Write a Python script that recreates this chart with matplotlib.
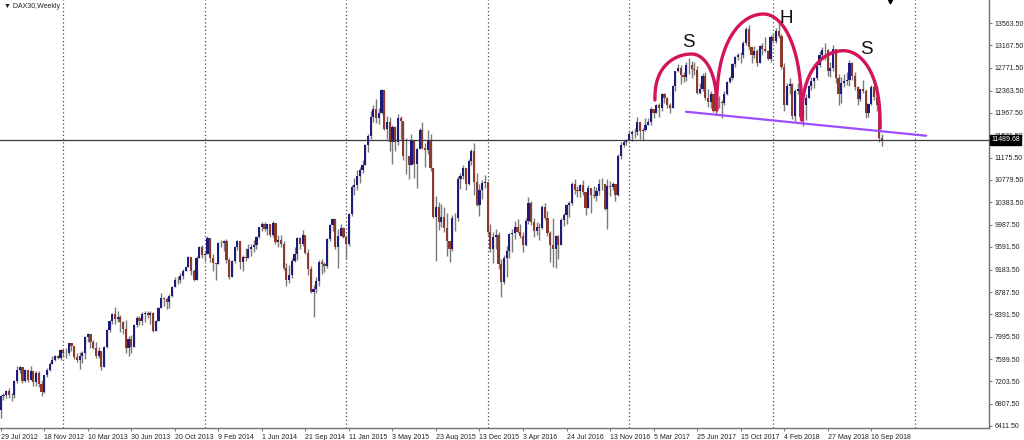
import matplotlib
matplotlib.use('Agg')
import matplotlib.pyplot as plt
import matplotlib.transforms as mtransforms
import numpy as np
import pandas as pd

plt.rcParams['font.family'] = ['Liberation Sans', 'DejaVu Sans']

# weekly DAX30 candles, first bar = week of 29 Jul 2012
first_open = 6700
closes = [
    6940, 6955, 7040, 6970, 6970, 7215, 7410, 7450, 7215, 7400,
    7230, 7380, 7200, 7360, 7160, 7020, 7310, 7400, 7520, 7590,
    7660, 7610, 7760, 7715, 7700, 7880, 7830, 7630, 7590, 7660,
    7710, 7990, 8040, 7910, 7800, 7660, 7740, 7460, 7810, 8120,
    8280, 8400, 8310, 8350, 8250, 8130, 7790, 7960, 7810, 8210,
    8330, 8280, 8400, 8420, 8390, 8420, 8100, 8270, 8510, 8680,
    8660, 8620, 8720, 8870, 9010, 9010, 9080, 9170, 9230, 9410,
    9170, 9010, 9400, 9590, 9440, 9470, 9740, 9390, 9310, 9290,
    9660, 9660, 9690, 9350, 9060, 9340, 9590, 9700, 9320, 9410,
    9400, 9560, 9580, 9630, 9770, 9940, 9990, 9910, 9990, 9810,
    10010, 9670, 9720, 9640, 9210, 9010, 9090, 9340, 9470, 9750,
    9650, 9800, 9490, 9200, 8790, 8850, 8990, 9330, 9290, 9250,
    9730, 9980, 10090, 9590, 9790, 9930, 9760, 9650, 10170, 10650,
    10690, 10850, 10960, 11050, 11400, 11550, 11900, 12040, 11870, 11970,
    12370, 11690, 11810, 11450, 11710, 11450, 11870, 11820, 11200, 11200,
    11040, 11490, 11060, 11320, 11670, 11350, 11310, 11490, 10990, 10120,
    10300, 10040, 10120, 9920, 9690, 9550, 10100, 10100, 10790, 10850,
    10990, 10710, 11120, 11290, 10750, 10340, 10600, 10730, 10740, 9850,
    9550, 9770, 9800, 9290, 8970, 9390, 9510, 9820, 9830, 9950,
    9850, 9790, 9620, 10050, 10370, 10040, 9870, 9950, 9920, 10290,
    10100, 9830, 9630, 9560, 9780, 9630, 10070, 10150, 10340, 10370,
    10710, 10600, 10590, 10680, 10570, 10280, 10630, 10510, 10490, 10580,
    10710, 10700, 10260, 10670, 10660, 10700, 10510, 11200, 11400, 11450,
    11480, 11600, 11630, 11630, 11810, 11650, 11670, 11760, 11800, 12030,
    11960, 12100, 12060, 12310, 12230, 12110, 12050, 12440, 12710, 12770,
    12640, 12600, 12820, 12810, 12750, 12730, 12330, 12390, 12630, 12240,
    12160, 12300, 12010, 12170, 12160, 12140, 12300, 12520, 12590, 12830,
    12960, 12990, 13000, 13200, 13460, 13130, 12990, 13060, 12860, 13150,
    13100, 13070, 12920, 13320, 13250, 13430, 13340, 12790, 12110, 12450,
    12480, 11910, 12350, 12390, 11890, 12100, 12240, 12440, 12540, 12580,
    12820, 13000, 13080, 13080, 12720, 12770, 13110, 12580, 12310, 12500,
    12540, 12560, 12860, 12620, 12420, 12210, 12390, 12360, 11960, 12120,
    12430, 12250, 12110, 11520, 11489.68,
]
highs = [
    6960, 7000, 7050, 7090, 7000, 7230, 7480, 7480, 7450, 7430,
    7380, 7480, 7380, 7380, 7380, 7220, 7320, 7440, 7550, 7650,
    7680, 7680, 7780, 7740, 7790, 7890, 7870, 7830, 7700, 7720,
    7750, 8010, 8070, 8020, 7930, 7900, 7820, 7750, 7830, 8140,
    8290, 8420, 8530, 8450, 8380, 8280, 8290, 8000, 8020, 8220,
    8360, 8360, 8430, 8450, 8460, 8450, 8430, 8290, 8520, 8770,
    8700, 8700, 8750, 8890, 9050, 9080, 9120, 9200, 9250, 9420,
    9400, 9200, 9420, 9600, 9620, 9500, 9790, 9750, 9470, 9310,
    9670, 9720, 9720, 9730, 9400, 9360, 9600, 9720, 9700, 9450,
    9570, 9640, 9640, 9720, 9780, 9950, 10030, 10040, 10000, 10000,
    10050, 10000, 9800, 9800, 9700, 9300, 9260, 9390, 9590, 9760,
    9770, 9890, 9800, 9560, 9250, 8920, 9050, 9350, 9370, 9330,
    9740, 10000, 10100, 10070, 9900, 10000, 9950, 9800, 10200, 10680,
    10810, 10950, 11000, 11130, 11420, 11600, 12000, 12100, 12220, 12060,
    12390, 12380, 11920, 11900, 11760, 11730, 11950, 11920, 11770, 11520,
    11200, 11600, 11300, 11350, 11700, 11800, 11440, 11670, 11600, 10960,
    10500, 10380, 10350, 10300, 10200, 9700, 10150, 10200, 10840, 10900,
    11050, 10980, 11150, 11320, 11430, 10900, 10700, 10780, 10860, 10500,
    10000, 9850, 9900, 9850, 9380, 9450, 9600, 9830, 9900, 10050,
    10080, 10000, 9850, 10100, 10480, 10400, 10100, 10040, 10020, 10330,
    10370, 10230, 9880, 10100, 9800, 9800, 10100, 10190, 10360, 10400,
    10740, 10800, 10670, 10700, 10780, 10500, 10680, 10640, 10670, 10650,
    10800, 10820, 10700, 10800, 10760, 10750, 10700, 11230, 11450, 11480,
    11500, 11670, 11670, 11700, 11890, 11800, 11700, 11870, 11880, 12080,
    12030, 12120, 12150, 12320, 12330, 12250, 12150, 12470, 12720, 12840,
    12810, 12690, 12880, 12950, 12890, 12880, 12800, 12500, 12670, 12700,
    12400, 12350, 12310, 12300, 12270, 12200, 12350, 12540, 12630, 12850,
    12980, 13030, 13050, 13250, 13490, 13520, 13130, 13150, 13100, 13180,
    13200, 13310, 13080, 13350, 13380, 13480, 13600, 13360, 12850, 12500,
    12590, 12500, 12400, 12500, 12400, 12140, 12300, 12460, 12600, 12600,
    12830, 13060, 13130, 13200, 13100, 12880, 13180, 13050, 12650, 12600,
    12650, 12700, 12900, 12870, 12700, 12450, 12400, 12550, 12400, 12150,
    12460, 12460, 12450, 12150, 11600,
]
lows = [
    6560, 6880, 6900, 6900, 6860, 6900, 7180, 7350, 7180, 7200,
    7200, 7220, 7120, 7130, 7100, 6950, 7000, 7280, 7380, 7520,
    7560, 7600, 7580, 7640, 7620, 7680, 7750, 7600, 7550, 7420,
    7530, 7600, 7900, 7800, 7770, 7610, 7620, 7410, 7450, 7800,
    8080, 8230, 8220, 8250, 8080, 8050, 7700, 7660, 7700, 7880,
    8170, 8200, 8210, 8250, 8330, 8230, 8080, 8130, 8280, 8520,
    8550, 8490, 8500, 8700, 8880, 8940, 8950, 9020, 9160, 9230,
    9100, 8980, 9050, 9400, 9400, 9340, 9460, 9330, 9170, 9000,
    9300, 9590, 9520, 9300, 9020, 9060, 9300, 9540, 9200, 9170,
    9340, 9400, 9430, 9500, 9550, 9750, 9870, 9870, 9800, 9770,
    9770, 9650, 9580, 9580, 9180, 8900, 8950, 9030, 9330, 9350,
    9560, 9600, 9470, 9100, 8780, 8350, 8780, 8900, 9110, 9140,
    9220, 9700, 9870, 9550, 9220, 9780, 9750, 9380, 9600, 10130,
    10520, 10600, 10730, 10900, 11100, 11280, 11500, 11800, 11790, 11780,
    11950, 11660, 11500, 11300, 11070, 11300, 11400, 11500, 11130, 10880,
    10800, 11050, 10810, 10640, 11350, 11320, 11000, 11230, 10930, 10100,
    9340, 9890, 9950, 9850, 9420, 9330, 9520, 9870, 10050, 10610,
    10800, 10600, 10680, 11050, 10520, 10310, 10140, 10440, 10630, 9800,
    9500, 9310, 9560, 9200, 8700, 8930, 9060, 9400, 9500, 9730,
    9830, 9750, 9500, 9600, 10000, 9970, 9770, 9800, 9720, 9900,
    10060, 9780, 9330, 9230, 9210, 9380, 9620, 9960, 10000, 10120,
    10330, 10530, 10470, 10480, 10520, 10150, 10300, 10200, 10450, 10400,
    10520, 10600, 10250, 9900, 10500, 10600, 10400, 10500, 11150, 11360,
    11400, 11500, 11470, 11520, 11580, 11500, 11480, 11650, 11750, 11760,
    11880, 11960, 11900, 12000, 12150, 12050, 11960, 12350, 12350, 12700,
    12480, 12520, 12530, 12660, 12580, 12640, 12300, 12300, 12350, 12200,
    12070, 12050, 11980, 11930, 12050, 11870, 12100, 12280, 12500, 12550,
    12780, 12900, 12850, 12950, 13170, 13090, 12850, 12950, 12800, 12850,
    13000, 13050, 12900, 12870, 13200, 13200, 13300, 12750, 12000, 12100,
    12300, 11860, 11830, 12300, 11850, 11730, 11850, 12230, 12380, 12410,
    12560, 12780, 12960, 12910, 12620, 12600, 12710, 12500, 12100, 12150,
    12420, 12470, 12450, 12550, 12380, 12100, 12180, 12320, 11870, 11900,
    12100, 12200, 12000, 11460, 11380,
]

price_ticks = [13563.50, 13167.50, 12771.50, 12363.50, 11967.50, 11571.50,
               11175.50, 10779.50, 10383.50, 9987.50, 9591.50, 9183.50,
               8787.50, 8391.50, 7995.50, 7599.50, 7203.50, 6807.50, 6411.50]
last_price = 11489.68

dates = pd.date_range('2012-07-29', periods=len(closes), freq='W-SUN')
opens = [first_open] + closes[:-1]

o = np.array(opens, dtype=float)
c = np.array(closes, dtype=float)
h = np.maximum(np.array(highs, dtype=float), np.maximum(o, c))
l = np.minimum(np.array(lows, dtype=float), np.minimum(o, c))
x = np.arange(len(c))
up = c >= o

fig = plt.figure(figsize=(10.24, 4.4), dpi=100)
ax = fig.add_axes([0.0, 12 / 440, 989 / 1024, 428 / 440])
ax.set_xlim(-0.26, 363.3)
ax.set_ylim(6376, 13972)

# wicks and bodies
ax.vlines(x, l, h, color='#7a7a7a', linewidth=1.0, zorder=2)
ax.bar(x[up], (c - o)[up], bottom=o[up], width=0.8, color='#1c1c80',
       linewidth=0, zorder=3)
ax.bar(x[~up], (c - o)[~up], bottom=o[~up], width=0.8, color='#8b3a2b',
       linewidth=0, zorder=3)

# yearly period separators (extended into the shifted empty space)
all_weeks = pd.date_range('2012-07-29', '2019-06-30', freq='W-SUN')
for i in range(1, len(all_weeks)):
    if all_weeks[i].year != all_weeks[i - 1].year:
        ax.axvline(i, color='#4a4a4a', linewidth=0.9, linestyle=(0, (1, 2)), zorder=1)

# current price line
ax.axhline(last_price, color='#3a3a3a', linewidth=0.9, zorder=4)

# axes look (MT4 style)
for s in ['top', 'left']:
    ax.spines[s].set_visible(False)
for s in ['right', 'bottom']:
    ax.spines[s].set_color('#707070')
    ax.spines[s].set_linewidth(1.0)

ax.yaxis.tick_right()
ax.set_yticks(price_ticks)
ax.set_yticklabels(['%.2f' % v for v in price_ticks])
ax.tick_params(axis='y', length=2.5, width=0.7, color='#707070', pad=1.5,
               labelsize=5, labelcolor='#222222')

xt = list(range(0, len(dates), 16))
ax.set_xticks(xt)
ax.set_xticklabels([f'{dates[i].day} {dates[i]:%b %Y}' for i in xt])
ax.tick_params(axis='x', length=2.5, width=0.7, color='#707070', pad=1.5,
               labelsize=5, labelcolor='#222222')
for lab in ax.get_xticklabels():
    lab.set_ha('left')

trans = mtransforms.blended_transform_factory(ax.transAxes, ax.transData)
ax.text(1.002, last_price, '%.2f' % last_price, transform=trans, ha='left',
        va='center', fontsize=5, color='white', zorder=10, clip_on=False,
        bbox=dict(boxstyle='square,pad=0.2', facecolor='black', edgecolor='black'))

ax.text(0.004, 0.992, '\u25bc DAX30,Weekly', transform=ax.transAxes, ha='left',
        va='top', fontsize=5, color='#222222')

# chart shift marker at the top
ax.plot([0.9], [0.997], marker='v', markersize=3.5, color='black',
        transform=ax.transAxes, clip_on=False, zorder=10)

# hand drawn head & shoulders annotation: two quarter ellipses per arch
def arch(x0, y0, xp, yp, x1, y1):
    t = np.linspace(0, np.pi / 2, 40)
    lx = xp - (xp - x0) * np.cos(t)
    ly = y0 + (yp - y0) * np.sin(t) ** 0.8
    rx = xp + (x1 - xp) * np.sin(t)
    ry = y1 + (yp - y1) * np.cos(t) ** 0.8
    ax.plot(np.r_[lx, rx], np.r_[ly, ry], color='#d4145a', linewidth=2.4,
            solid_capstyle='round', zorder=6)

arch(240.5, 12197, 254.0, 13013, 263.2, 12020)
arch(263.2, 12020, 280.4, 13723, 294.5, 11842)
arch(294.5, 11842, 309.8, 13072, 323.3, 11700)

ax.plot([251.9, 340.2], [11989, 11563], color='#9b4dff', linewidth=1.6,
        solid_capstyle='round', zorder=6)

ax.text(252.7, 13214, 'S', fontsize=13.5, ha='center', va='center', color='#111111', zorder=7)
ax.text(288.6, 13647, 'H', fontsize=13.5, ha='center', va='center', color='#111111', zorder=7)
ax.text(318.1, 13085, 'S', fontsize=13.5, ha='center', va='center', color='#111111', zorder=7)

fig.savefig('out.png', dpi=100)
plt.close(fig)
